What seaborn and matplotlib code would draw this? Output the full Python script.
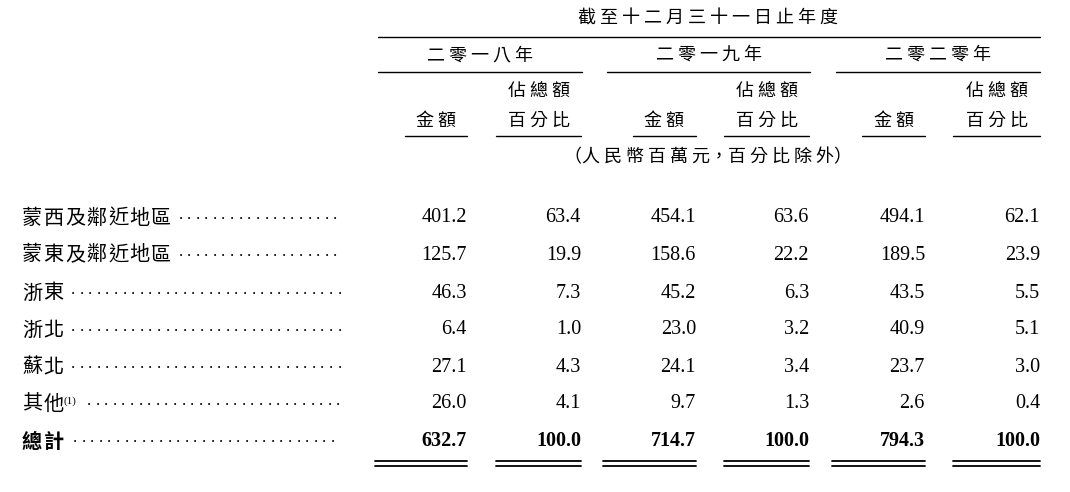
import matplotlib.pyplot as plt
import seaborn as sns

sns.set_theme(style="white")
plt.rcParams['font.family'] = ['Noto Sans CJK TC', 'DejaVu Sans']

# data
regions = ["蒙西及鄰近地區", "蒙東及鄰近地區", "浙東", "浙北", "蘇北", "其他"]
amount_2018 = [401.2, 125.7, 46.3, 6.4, 27.1, 26.0]
pct_2018 = [63.4, 19.9, 7.3, 1.0, 4.3, 4.1]
amount_2019 = [454.1, 158.6, 45.2, 23.0, 24.1, 9.7]
pct_2019 = [63.6, 22.2, 6.3, 3.2, 3.4, 1.3]
amount_2020 = [494.1, 189.5, 43.5, 40.9, 23.7, 2.6]
pct_2020 = [62.1, 23.9, 5.5, 5.1, 3.0, 0.4]
totals = [632.7, 100.0, 714.7, 100.0, 794.3, 100.0]
years = ["二零一八年", "二零一九年", "二零二零年"]

fig = plt.figure(figsize=(10.7, 4.92), dpi=100)
ax = fig.add_axes([0, 0, 1, 1])
ax.set_xlim(0, 1070)
ax.set_ylim(492, 0)
ax.axis("off")

cjk = dict(fontsize=13, color="black", va="center")
num = dict(fontsize=14.5, color="black", va="center", family="Liberation Serif", ha="right")

col_right = [467, 581, 696, 809, 925, 1040]
col_left = [405, 496, 633, 724, 862, 953]
year_span = [(378, 582), (607, 810), (836, 1040)]

ax.text(708, 18, "截 至 十 二 月 三 十 一 日 止 年 度", ha="center", **cjk)
ax.plot([378, 1040], [37, 37], color="black", lw=1)
for (a, b), y in zip(year_span, years):
    ax.text((a + b) / 2, 55, " ".join(y), ha="center", **cjk)
    ax.plot([a, b], [72, 72], color="black", lw=1)
for i in range(6):
    cx = (col_left[i] + col_right[i]) / 2
    ax.plot([col_left[i], col_right[i]], [136, 136], color="black", lw=1)
    if i % 2 == 0:
        ax.text(cx, 121, "金 額", ha="center", **cjk)
    else:
        ax.text(cx, 92, "佔 總 額", ha="center", **cjk)
        ax.text(cx, 121, "百 分 比", ha="center", **cjk)
ax.text(708, 157, "（人 民 幣 百 萬 元，百 分 比 除 外）", ha="center", **cjk)

row_y = [218, 255, 293, 330, 367, 404, 441]
cols = [amount_2018, pct_2018, amount_2019, pct_2019, amount_2020, pct_2020]


def label(y, name, bold=False):
    # one character per 21.5 px, like the source typesetting
    for k, ch in enumerate(name):
        ax.text(22 + 21.5 * k, y, ch, ha="left", fontsize=14.5,
                fontweight="bold" if bold else "normal", color="black", va="center")
    return 22 + 21.5 * len(name)


def leader(y, x0):
    x = x0
    while x <= 340:
        ax.text(x, y + 5, ".", ha="center", va="bottom", fontsize=12,
                family="Liberation Serif", color="black")
        x += 8.6


for r, name in enumerate(regions):
    y = row_y[r]
    end = label(y, name)
    if name == "其他":
        ax.text(end - 2, y - 3, "(1)", fontsize=8, va="center",
                family="Liberation Serif", color="black")
        end += 16
    leader(y, end + 8)
    for c in range(6):
        ax.text(col_right[c], y, f"{cols[c][r]:.1f}", **num)

y = row_y[6]
label(y, "總計", bold=True)
leader(y, 75)
for c in range(6):
    x0 = col_left[c] - 30 if c % 2 == 0 else col_left[c]
    ax.text(col_right[c], y, f"{totals[c]:.1f}", fontweight="bold", **num)
    ax.plot([x0, col_right[c]], [461, 461], color="black", lw=1.3)
    ax.plot([x0, col_right[c]], [466, 466], color="black", lw=1.3)

fig.savefig("out.png", dpi=100, facecolor="white")
